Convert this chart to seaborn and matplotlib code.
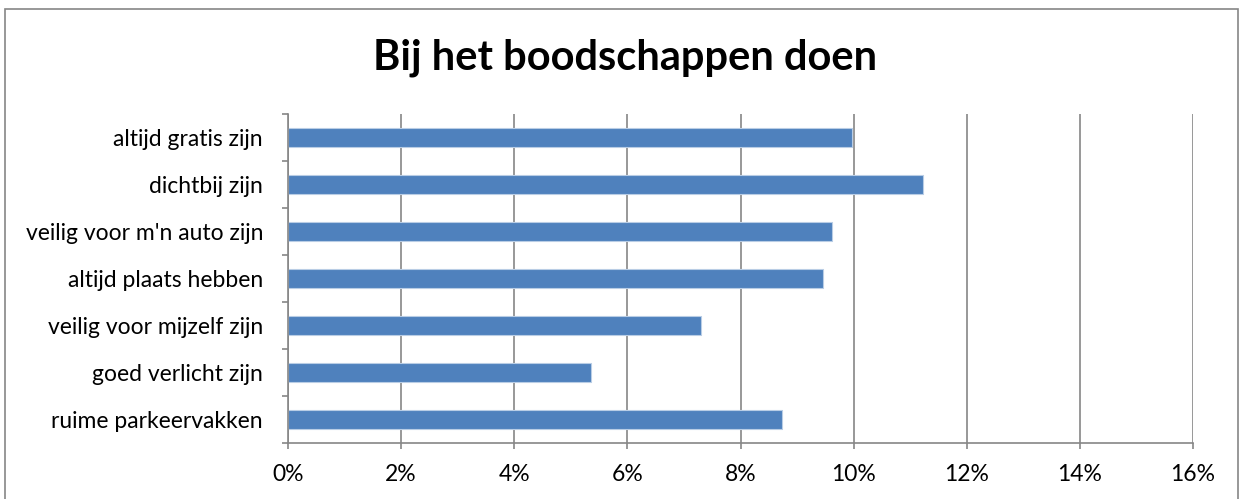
import numpy as np
import pandas as pd
import matplotlib
matplotlib.use("Agg")
import matplotlib.pyplot as plt
import seaborn as sns
from matplotlib.ticker import PercentFormatter, FixedLocator
from matplotlib.patches import Rectangle

# Data
categories = [
    "altijd gratis zijn",
    "dichtbij zijn",
    "veilig voor m'n auto zijn",
    "altijd plaats hebben",
    "veilig voor mijzelf zijn",
    "goed verlicht zijn",
    "ruime parkeervakken",
]
values = [0.0997, 0.1122, 0.0962, 0.0945, 0.0730, 0.0535, 0.0873]
x_ticks = [0.0, 0.02, 0.04, 0.06, 0.08, 0.10, 0.12, 0.14, 0.16]

title = "Bij het boodschappen doen"

BAR_COLOR = "#4F81BD"
GRID_COLOR = "#868686"

sns.set_style("white")
plt.rcParams["font.family"] = ["Lato", "DejaVu Sans"]
plt.rcParams["text.color"] = "black"
plt.rcParams["xtick.labelcolor"] = "black"
plt.rcParams["ytick.labelcolor"] = "black"

df = pd.DataFrame({"category": categories, "value": values})

fig = plt.figure(figsize=(12.45, 4.99), dpi=100)
ax = fig.add_axes([288 / 1245, 56 / 499, 905 / 1245, 329 / 499])

sns.barplot(data=df, x="value", y="category", orient="h", color=BAR_COLOR,
            width=0.4, edgecolor="#B9CDE5", linewidth=0.8, saturation=1, ax=ax)

ax.set_xlim(0, 0.16)
ax.set_ylim(len(categories) - 0.5, -0.5)
ax.xaxis.set_major_locator(FixedLocator(x_ticks))
ax.xaxis.set_major_formatter(PercentFormatter(1.0, decimals=0))
ax.grid(axis="x", color=GRID_COLOR, linewidth=1.2)
ax.set_axisbelow(True)
ax.set_xlabel("")
ax.set_ylabel("")

for side in ["top", "right"]:
    ax.spines[side].set_visible(False)
for side in ["left", "bottom"]:
    ax.spines[side].set_color(GRID_COLOR)
    ax.spines[side].set_linewidth(1.2)

# category boundary ticks on y axis
ax.yaxis.set_minor_locator(FixedLocator(np.arange(-0.5, len(categories), 1.0)))
ax.tick_params(axis="y", which="major", length=0, pad=18, labelsize=16.5)
ax.tick_params(axis="y", which="minor", length=4, width=1.2, color=GRID_COLOR, left=True)
ax.tick_params(axis="x", which="major", length=4, width=1.2, color=GRID_COLOR,
               bottom=True, pad=11, labelsize=16.5)

fig.text(0.502, 1 - 58 / 499, title, ha="center", va="center",
         fontsize=30, fontweight="bold", color="black")

# outer chart border
fig.patches.append(Rectangle((5 / 1245, -0.02), 1233 / 1245, 1.02 - 9 / 499,
                             transform=fig.transFigure, fill=False,
                             edgecolor="#868686", linewidth=1.2))

fig.savefig("out.png", dpi=100)
